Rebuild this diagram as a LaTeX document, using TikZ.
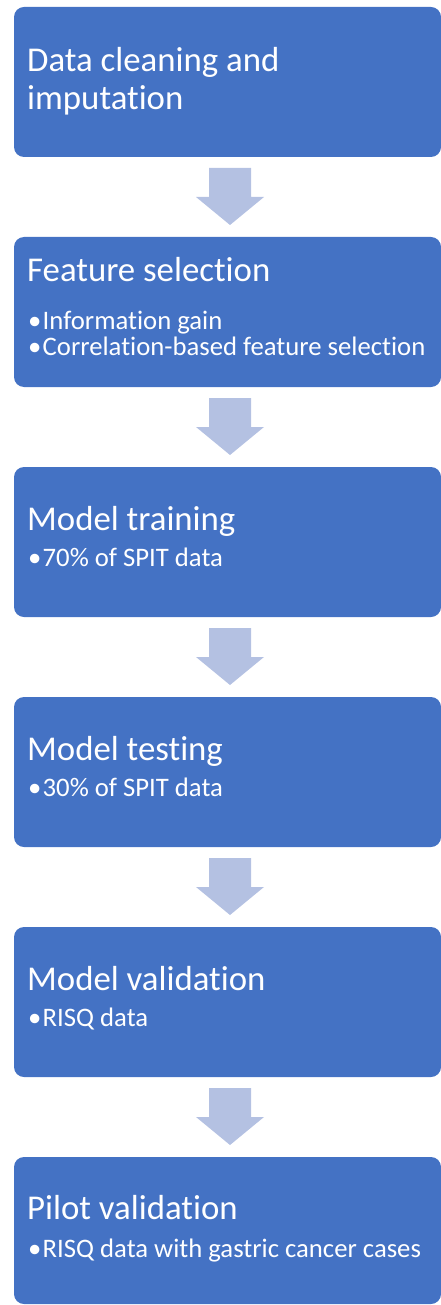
\documentclass[tikz,border=0pt]{standalone}
\usepackage{fontspec}
\setmainfont{Carlito}[Ligatures={NoCommon}]
\usetikzlibrary{calc}
\definecolor{boxblue}{HTML}{4472C4}
\definecolor{arrowblue}{RGB}{180,193,226}
\newcommand\flowarrow[2]{%
  \fill[arrowfill] ($(#1.south)+(-18.5,11)$) -- ($(#1.south)+(23.5,11)$)
    -- ($(#2.north)+(23.5,-40)$) -- ($(#2.north)+(36.5,-40)$)
    -- ($(#2.north)+(2.5,-12)$)
    -- ($(#2.north)+(-31.5,-40)$) -- ($(#2.north)+(-18.5,-40)$) -- cycle;}
\begin{document}
\begin{tikzpicture}[x=1pt,y=-1pt,
  stepbox/.style={fill=boxblue, rounded corners=10pt, minimum width=427pt,
    minimum height=150pt, anchor=north west, inner sep=0pt, outer sep=0pt},
  arrowfill/.style={fill=arrowblue},
  title/.style={text=white, font=\fontsize{34.8}{40}\selectfont, anchor=base west, inner sep=0pt},
  item/.style={text=white, font=\fontsize{26.7}{30}\selectfont, anchor=base west, inner sep=0pt}]
\useasboundingbox (0,0) rectangle (441,1305);
\newcommand\bul{\makebox[14.5pt][l]{\textbullet}}

\node[stepbox] (b1) at (14,7) {};
\node[stepbox] (b2) at (14,237) {};
\node[stepbox] (b3) at (14,467) {};
\node[stepbox] (b4) at (14,697) {};
\node[stepbox] (b5) at (14,927) {};
\node[stepbox, minimum height=147pt] (b6) at (14,1157) {};

\node[title] (t1a) at (27,72) {Data cleaning and};
\node[title] (t1b) at (27,110) {imputation};

\node[title] (t2) at (27,282) {Feature selection};
\node[item] (i2a) at (28,329) {\bul Information gain};
\node[item] (i2b) at (28,355) {\bul Correlation-based feature selection};

\node[title] (t3) at (27,530) {Model training};
\node[item] (i3) at (28,566) {\bul 70\% of SPIT data};

\node[title] (t4) at (27,760) {Model testing};
\node[item] (i4) at (28,796) {\bul 30\% of SPIT data};

\node[title] (t5) at (27,990) {Model validation};
\node[item] (i5) at (28,1026) {\bul RISQ data};

\node[title] (t6) at (27,1219) {Pilot validation};
\node[item] (i6) at (28,1257) {\bul RISQ data with gastric cancer cases};

\flowarrow{b1}{b2}
\flowarrow{b2}{b3}
\flowarrow{b3}{b4}
\flowarrow{b4}{b5}
\flowarrow{b5}{b6}
\end{tikzpicture}
\end{document}
